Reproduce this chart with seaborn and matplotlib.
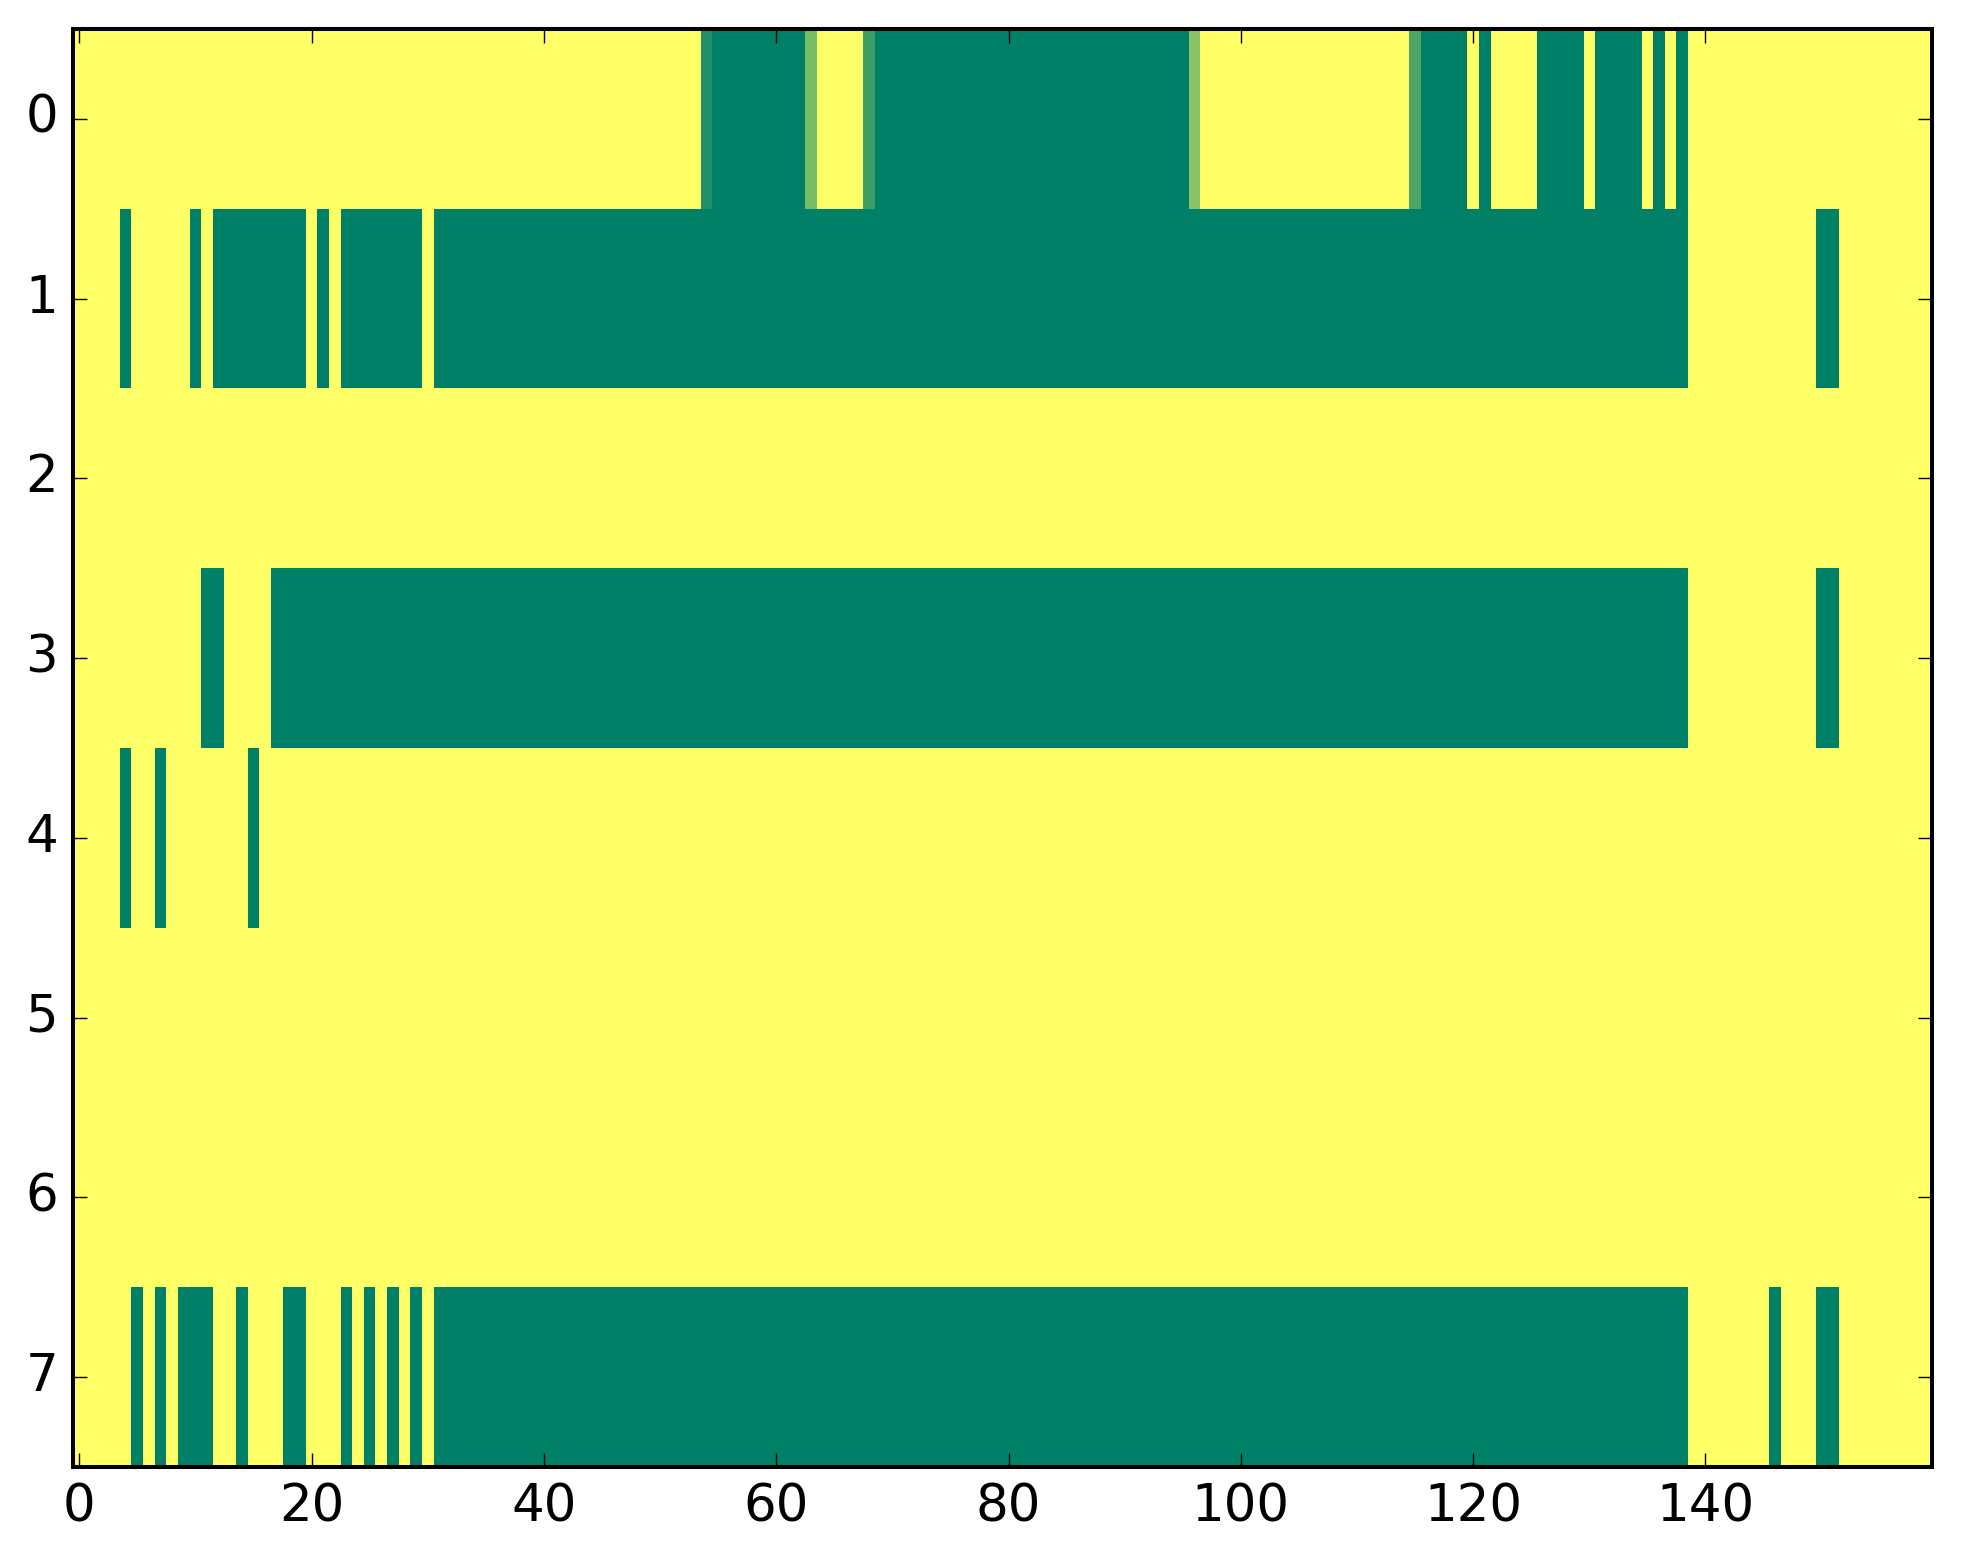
import numpy as np
import matplotlib
matplotlib.use("Agg")
import matplotlib.pyplot as plt
import seaborn as sns

# grid size
n_rows = 8
n_cols = 160

# dark-green (value 0) runs per row, inclusive column ranges; everything else is 1 (yellow)
row0_dark = [(55, 62), (69, 95), (116, 119), (121, 121), (126, 129), (131, 134), (136, 136), (138, 138)]
row1_dark = [(4, 4), (10, 10), (12, 19), (21, 21), (23, 29), (31, 138), (150, 151)]
row3_dark = [(11, 12), (17, 138), (150, 151)]
row4_dark = [(4, 4), (7, 7), (15, 15)]
row7_dark = [(5, 5), (7, 7), (9, 11), (14, 14), (18, 19), (23, 23), (25, 25), (27, 27),
             (29, 29), (31, 138), (146, 146), (150, 151)]

# partial values in row 0
row0_partial_cols = [54, 63, 68, 96, 115]
row0_partial_vals = [0.13, 0.47, 0.24, 0.54, 0.30]

xtick_vals = [0, 20, 40, 60, 80, 100, 120, 140]
ytick_vals = [0, 1, 2, 3, 4, 5, 6, 7]

grid = np.ones((n_rows, n_cols))
for r, runs in [(0, row0_dark), (1, row1_dark), (3, row3_dark), (4, row4_dark), (7, row7_dark)]:
    for a, b in runs:
        grid[r, a:b + 1] = 0.0
for c, v in zip(row0_partial_cols, row0_partial_vals):
    grid[0, c] = v

fig = plt.figure(figsize=(1963 / 200, 1564 / 200), dpi=200)
ax = fig.add_axes([0.0374, 0.062, 0.9468, 0.9195])

sns.heatmap(grid, cmap="summer", vmin=0, vmax=1, cbar=False, ax=ax)

ax.set_xlim(0, n_cols)
ax.set_ylim(n_rows, 0)
ax.set_xticks(np.array(xtick_vals) + 0.5)
ax.set_xticklabels([str(v) for v in xtick_vals], rotation=0)
ax.set_yticks(np.array(ytick_vals) + 0.5)
ax.set_yticklabels([str(v) for v in ytick_vals], rotation=0)

for s in ax.spines.values():
    s.set_visible(True)
    s.set_color("black")
    s.set_linewidth(1.45)

ax.tick_params(direction="in", top=True, right=True, bottom=True, left=True,
               length=5.2, width=0.5, color="black", labelsize=18.5, pad=5.5)
for lab in ax.get_xticklabels() + ax.get_yticklabels():
    lab.set_fontfamily("DejaVu Sans")

fig.savefig("out.png", dpi=200)
